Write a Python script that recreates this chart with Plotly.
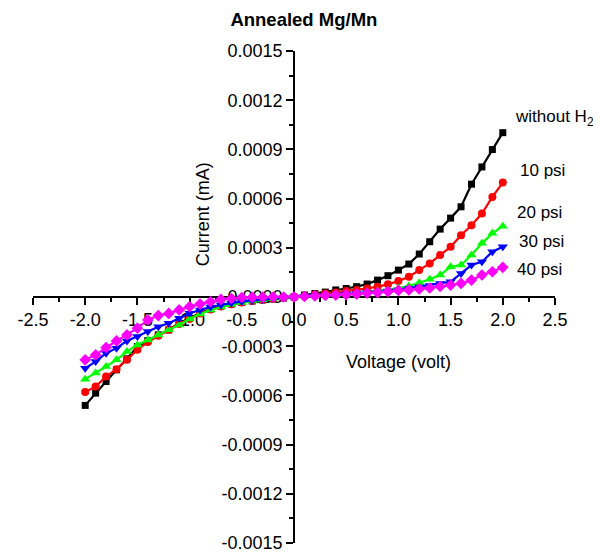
import plotly.graph_objects as go

# voltage steps, -2.0 .. 2.0 V
voltage = [round(-2.0 + 0.1 * i, 1) for i in range(41)]

without_h2 = [-0.000661, -0.000586, -0.000515, -0.000444, -0.000377, -0.000302, -0.000266,
              -0.000231, -0.000201, -0.000160, -0.000130, -0.000097, -0.000073, -0.000055,
              -0.000043, -0.000033, -0.000024, -0.000018, -0.000012, -0.000006, 0.0,
              0.000012, 0.000021, 0.000030, 0.000043, 0.000052, 0.000063, 0.000079,
              0.000103, 0.000130, 0.000164, 0.000201, 0.000262, 0.000337, 0.000414,
              0.000481, 0.000550, 0.000688, 0.000793, 0.000899, 0.001002]
psi10 = [-0.000580, -0.000546, -0.000485, -0.000440, -0.000383, -0.000322, -0.000274,
         -0.000237, -0.000200, -0.000164, -0.000134, -0.000100, -0.000076, -0.000058,
         -0.000044, -0.000033, -0.000024, -0.000017, -0.000011, -0.000005, 0.0,
         0.000006, 0.000015, 0.000021, 0.000027, 0.000037, 0.000043, 0.000052,
         0.000063, 0.000077, 0.000097, 0.000124, 0.000164, 0.000205, 0.000256,
         0.000306, 0.000377, 0.000438, 0.000509, 0.000610, 0.000698]
psi20 = [-0.000501, -0.000464, -0.000424, -0.000383, -0.000333, -0.000292, -0.000262,
         -0.000231, -0.000200, -0.000170, -0.000134, -0.000103, -0.000079, -0.000061,
         -0.000046, -0.000033, -0.000024, -0.000017, -0.000011, -0.000005, 0.0,
         0.000006, 0.000009, 0.000012, 0.000015, 0.000021, 0.000024, 0.000030,
         0.000036, 0.000043, 0.000055, 0.000067, 0.000087, 0.000108, 0.000134,
         0.000184, 0.000195, 0.000256, 0.000327, 0.000388, 0.000432]
psi30 = [-0.000434, -0.000394, -0.000343, -0.000312, -0.000268, -0.000241, -0.000211,
         -0.000181, -0.000160, -0.000130, -0.000099, -0.000079, -0.000061, -0.000049,
         -0.000037, -0.000027, -0.000021, -0.000015, -0.000009, -0.000004, 0.0,
         0.000003, 0.000006, 0.000009, 0.000015, 0.000018, 0.000021, 0.000027,
         0.000030, 0.000036, 0.000043, 0.000052, 0.000061, 0.000070, 0.000083,
         0.000093, 0.000144, 0.000195, 0.000215, 0.000276, 0.000306]
psi40 = [-0.000383, -0.000353, -0.000308, -0.000268, -0.000231, -0.000190, -0.000140,
         -0.000113, -0.000100, -0.000079, -0.000059, -0.000043, -0.000029, -0.000015,
         -0.000009, -0.000003, -0.000002, -0.000001, 0.0, 0.0, 0.0,
         0.000003, 0.000006, 0.000009, 0.000012, 0.000015, 0.000018, 0.000024,
         0.000027, 0.000033, 0.000040, 0.000043, 0.000049, 0.000055, 0.000064,
         0.000073, 0.000083, 0.000103, 0.000134, 0.000154, 0.000181]

series = [
    ("without H2", without_h2, "#000000", "square", 7),
    ("10 psi", psi10, "#ff0000", "circle", 8),
    ("20 psi", psi20, "#00ff00", "triangle-up", 9),
    ("30 psi", psi30, "#0000ff", "triangle-down", 9),
    ("40 psi", psi40, "#ff00ff", "diamond", 9),
]

# tick labels use a plain hyphen like the original
x_ticks = [-2.5, -2.0, -1.5, -1.0, -0.5, 0.0, 0.5, 1.0, 1.5, 2.0, 2.5]
x_ticktext = ["-2.5", "-2.0", "-1.5", "-1.0", "-0.5", "0.0", "0.5", "1.0", "1.5", "2.0", "2.5"]
y_ticks = [-0.0015, -0.0012, -0.0009, -0.0006, -0.0003, 0.0, 0.0003, 0.0006, 0.0009, 0.0012, 0.0015]
y_ticktext = ["-0.0015", "-0.0012", "-0.0009", "-0.0006", "-0.0003", "0.0000",
              "0.0003", "0.0006", "0.0009", "0.0012", "0.0015"]

labels = ["without H<sub>2</sub>", "10 psi", "20 psi", "30 psi", "40 psi"]
label_x = [2.10, 2.15, 2.12, 2.14, 2.12]
label_y = [0.00109, 0.000773, 0.000517, 0.000341, 0.00017]

font = "Liberation Sans, Arial, sans-serif"

fig = go.Figure()
for name, vals, col, sym, msize in series:
    fig.add_trace(go.Scatter(
        x=voltage, y=vals, mode="lines+markers", name=name,
        line=dict(color=col, width=2.2),
        marker=dict(symbol=sym, size=msize, color=col),
    ))

for txt, lx, ly in zip(labels, label_x, label_y):
    fig.add_annotation(x=lx, y=ly, text=txt, showarrow=False, xanchor="left",
                       font=dict(size=17, color="black", family=font))

fig.add_annotation(x=-0.87, y=0.000505, text="Current (mA)", textangle=-90, showarrow=False,
                   font=dict(size=18, color="black", family=font))
fig.add_annotation(x=1.0, y=-0.000395, text="Voltage (volt)", showarrow=False,
                   font=dict(size=18, color="black", family=font))

axis_common = dict(
    showline=True, linecolor="black", linewidth=1.5, showgrid=False, zeroline=False,
    ticks="outside", ticklen=7, tickwidth=1.5, tickcolor="black",
    tickfont=dict(size=18, color="black", family=font),
    anchor="free", position=0.5, layer="below traces", automargin=False,
    ticklabeloverflow="allow",
)

# page body has an 8px margin, so the figure is 8px smaller than the window
fig.update_layout(
    width=593, height=545,
    margin=dict(l=25, r=46, t=43, b=10),
    paper_bgcolor="white", plot_bgcolor="white",
    showlegend=False,
    title=dict(text="<b>Annealed Mg/Mn</b>", x=0.499, xanchor="center", y=0.978, yanchor="middle",
               font=dict(size=18.5, color="black", family=font)),
    xaxis=dict(range=[-2.5, 2.5], tickmode="array", tickvals=x_ticks, ticktext=x_ticktext,
               minor=dict(dtick=0.25, tick0=0, ticks="outside", ticklen=4, tickcolor="black", tickwidth=1.5),
               **axis_common),
    yaxis=dict(range=[-0.0015, 0.0015], tickmode="array", tickvals=y_ticks, ticktext=y_ticktext,
               minor=dict(dtick=0.00015, tick0=0, ticks="outside", ticklen=4, tickcolor="black", tickwidth=1.5),
               **axis_common),
)

fig.write_html("out.html")
